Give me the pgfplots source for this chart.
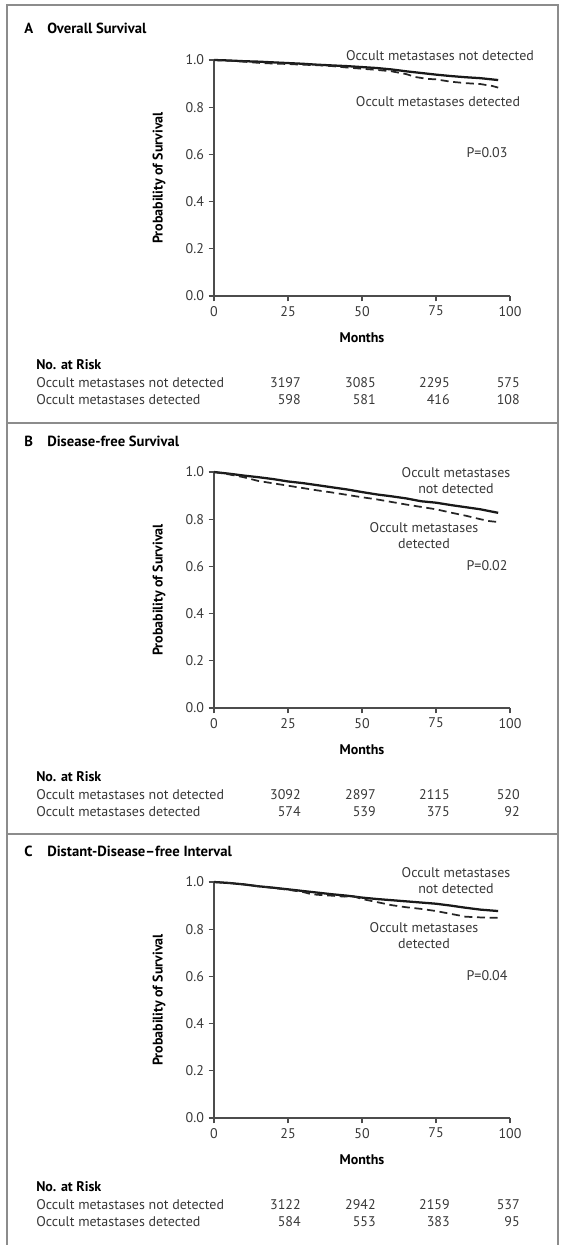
\documentclass[border=0pt]{standalone}
\usepackage{fontspec}
\setmainfont{PT Sans}
\usepackage{pgfplots}
\pgfplotsset{compat=1.18}
\definecolor{framec}{gray}{0.55}
\definecolor{txt}{gray}{0.22}
\definecolor{axc}{gray}{0.3}
\newcommand\fs{\fontsize{10.5}{12}\selectfont}
\newcommand\ts{\fontsize{11}{13}\selectfont\bfseries}
\pgfplotsset{kmaxis/.style={
  scale only axis, width=222pt, height=177pt, anchor=south west,
  xmin=0, xmax=100, ymin=0, ymax=1,
  axis lines=left, axis line style={line width=1.0pt, color=axc, -},
  xtick={0,25,50,75,100}, ytick={0,0.2,0.4,0.6,0.8,1},
  tick align=outside, major tick length=4pt,
  tick style={line width=0.9pt, color=axc},
  yticklabel style={/pgf/number format/fixed, /pgf/number format/fixed zerofill, /pgf/number format/precision=1},
  /pgf/number format/assume math mode=true,
  ticklabel style={font=\fs, text=txt},
  clip=false,
  solid curve/.style={line width=1.7pt, color=black!90},
  dash curve/.style={line width=1.3pt, color=black!85, dash pattern=on 6pt off 3.5pt},
}}
\begin{document}
\begin{tikzpicture}
\path[use as bounding box] (0,0) rectangle (426pt,-933.75pt);
% Panel A
\begin{axis}[kmaxis, at={(160.5pt,-222pt)}]
\addplot[solid curve] coordinates {(0,1.0) (5,0.998) (10,0.995) (15,0.993) (20,0.99) (25,0.987) (30,0.984) (35,0.98) (40,0.977) (45,0.974) (50,0.97) (55,0.966) (60,0.96) (65,0.952) (70,0.945) (75,0.938) (80,0.932) (85,0.927) (90,0.923) (96,0.915)};
\addplot[dash curve] coordinates {(0,1.0) (5,0.997) (10,0.993) (15,0.988) (20,0.985) (25,0.983) (30,0.98) (35,0.978) (40,0.974) (45,0.968) (50,0.963) (55,0.958) (60,0.952) (65,0.94) (68,0.928) (72,0.92) (75,0.918) (80,0.908) (85,0.902) (90,0.898) (94,0.89) (96,0.883)};
\end{axis}
% Panel B
\begin{axis}[kmaxis, at={(160.5pt,-531pt)}]
\addplot[solid curve] coordinates {(0,1.0) (5,0.993) (10,0.985) (15,0.978) (20,0.97) (25,0.96) (30,0.953) (35,0.944) (40,0.935) (45,0.926) (50,0.915) (55,0.905) (60,0.897) (65,0.888) (70,0.876) (75,0.87) (80,0.86) (85,0.851) (90,0.842) (96,0.827)};
\addplot[dash curve] coordinates {(0,1.0) (5,0.99) (10,0.978) (15,0.962) (20,0.952) (25,0.942) (30,0.932) (35,0.922) (40,0.913) (45,0.903) (50,0.893) (55,0.884) (60,0.873) (65,0.862) (70,0.852) (75,0.842) (80,0.828) (85,0.815) (90,0.8) (93,0.792) (96,0.788)};
\end{axis}
% Panel C
\begin{axis}[kmaxis, at={(160.5pt,-838.5pt)}]
\addplot[solid curve] coordinates {(0,1.0) (5,0.996) (10,0.99) (15,0.982) (20,0.976) (25,0.969) (30,0.962) (35,0.955) (40,0.948) (45,0.942) (50,0.934) (55,0.928) (60,0.923) (65,0.918) (70,0.913) (75,0.908) (80,0.9) (85,0.891) (90,0.883) (96,0.877)};
\addplot[dash curve] coordinates {(0,1.0) (5,0.996) (10,0.99) (15,0.982) (20,0.975) (25,0.967) (30,0.958) (33,0.948) (36,0.945) (40,0.942) (44,0.938) (47,0.94) (50,0.928) (55,0.915) (60,0.902) (65,0.893) (70,0.886) (75,0.877) (80,0.865) (85,0.853) (90,0.85) (96,0.848)};
\end{axis}
\begin{scope}[x=0.75pt,y=-0.75pt, every node/.style={inner sep=0pt, font=\fs, text=txt}]
% frame
\draw[framec, line width=1.5pt] (7,1245) -- (7,5) -- (558,5) -- (558,1245);
\draw[framec, line width=1.5pt] (7,423) -- (558,423);
\draw[framec, line width=1.5pt] (7,834) -- (558,834);
% Panel A text
\node[anchor=base west, text=black, font=\ts] at (24,34) {A};
\node[anchor=base west, text=black, font=\ts] at (47,34) {Overall Survival};
\node[anchor=base] at (440,61) {Occult metastases not detected};
\node[anchor=base] at (438,107) {Occult metastases detected};
\node[anchor=base] at (487,158) {P=0.03};
\node[anchor=base, text=black] at (362,342) {\bfseries Months};
\node[rotate=90, text=black] at (159,178) {\bfseries Probability of Survival};
\node[anchor=base west, text=black] at (36,369) {\bfseries No. at Risk};
\node[anchor=base west] at (36,387) {Occult metastases not detected};
\node[anchor=base west] at (36,404) {Occult metastases detected};
\node[anchor=base east] at (301,387) {3197};
\node[anchor=base east] at (376,387) {3085};
\node[anchor=base east] at (450,387) {2295};
\node[anchor=base east] at (520,387) {575};
\node[anchor=base east] at (301,404) {598};
\node[anchor=base east] at (376,404) {581};
\node[anchor=base east] at (450,404) {416};
\node[anchor=base east] at (520,404) {108};
% Panel B text
\node[anchor=base west, text=black, font=\ts] at (24,446) {B};
\node[anchor=base west, text=black, font=\ts] at (47,446) {Disease-free Survival};
\node[anchor=base] at (456,477) {Occult metastases};
\node[anchor=base] at (456,493) {not detected};
\node[anchor=base] at (424,532) {Occult metastases};
\node[anchor=base] at (424,548) {detected};
\node[anchor=base] at (487,570) {P=0.02};
\node[anchor=base, text=black] at (362,754) {\bfseries Months};
\node[rotate=90, text=black] at (159,590) {\bfseries Probability of Survival};
\node[anchor=base west, text=black] at (36,781) {\bfseries No. at Risk};
\node[anchor=base west] at (36,799) {Occult metastases not detected};
\node[anchor=base west] at (36,816) {Occult metastases detected};
\node[anchor=base east] at (301,799) {3092};
\node[anchor=base east] at (376,799) {2897};
\node[anchor=base east] at (450,799) {2115};
\node[anchor=base east] at (520,799) {520};
\node[anchor=base east] at (301,816) {574};
\node[anchor=base east] at (376,816) {539};
\node[anchor=base east] at (450,816) {375};
\node[anchor=base east] at (520,816) {92};
% Panel C text
\node[anchor=base west, text=black, font=\ts] at (24,856) {C};
\node[anchor=base west, text=black, font=\ts] at (47,856) {Distant-Disease\textendash free Interval};
\node[anchor=base] at (456,877) {Occult metastases};
\node[anchor=base] at (456,893) {not detected};
\node[anchor=base] at (424,932) {Occult metastases};
\node[anchor=base] at (424,948) {detected};
\node[anchor=base] at (487,980) {P=0.04};
\node[anchor=base, text=black] at (362,1164) {\bfseries Months};
\node[rotate=90, text=black] at (159,1000) {\bfseries Probability of Survival};
\node[anchor=base west, text=black] at (36,1191) {\bfseries No. at Risk};
\node[anchor=base west] at (36,1209) {Occult metastases not detected};
\node[anchor=base west] at (36,1226) {Occult metastases detected};
\node[anchor=base east] at (301,1209) {3122};
\node[anchor=base east] at (376,1209) {2942};
\node[anchor=base east] at (450,1209) {2159};
\node[anchor=base east] at (520,1209) {537};
\node[anchor=base east] at (301,1226) {584};
\node[anchor=base east] at (376,1226) {553};
\node[anchor=base east] at (450,1226) {383};
\node[anchor=base east] at (520,1226) {95};
\end{scope}
\end{tikzpicture}
\end{document}
